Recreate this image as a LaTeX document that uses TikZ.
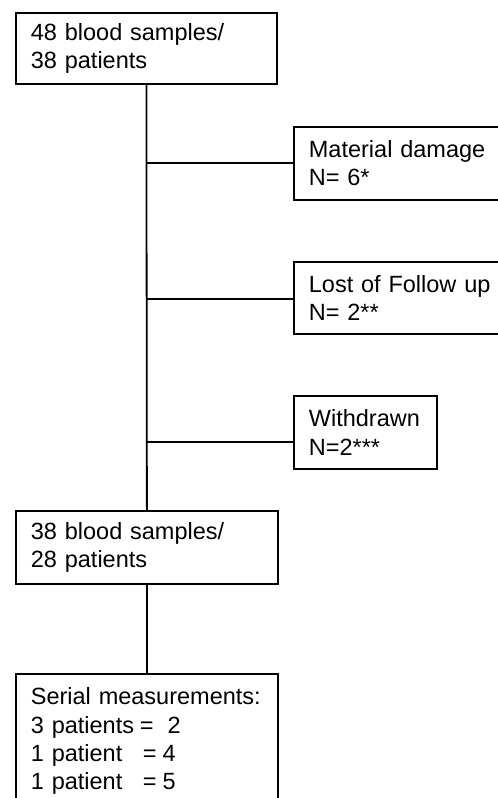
\documentclass[tikz,border=0pt]{standalone}
\usepackage{fontspec}
\setmainfont{Liberation Sans}
\usetikzlibrary{positioning}

\begin{document}
\begin{tikzpicture}[x= 1pt, y= -1pt, line width= 1.8pt]
      \useasboundingbox (0,0) rectangle (498,798);
      \clip (0,0) rectangle (498,798);
      \begin{scope}[every node/.style={draw,rectangle,anchor= north west,align= left,
          inner xsep= 15pt,inner ysep= 0pt,font= \fontsize{23.5}{28.3}\selectfont}]
        \node[text width= 231pt,minimum height= 71pt] (start) at (15,12) {48 blood samples/\\38 patients};
        \node[text width= 182pt,minimum height= 73pt] (damage) at (293,126) {Material~damage\\N= 6*};
        \node[text width= 182pt,minimum height= 72pt] (lost) at (293,261) {Lost~of~Follow~up\\N= 2**};
        \node[text width= 113pt,minimum height= 73pt] (withdrawn) at (293,395) {Withdrawn\\N=2***};
        \node[text width= 232pt,minimum height= 73pt] (remain) at (15,510) {38 blood samples/\\28 patients};
        \node[text width= 232pt,inner ysep= 14pt] (serial) at (15,673)
          {Serial~measurements:\\
           \makebox[109pt][l]{3 patients}=\hspace{14pt}2\\
           \makebox[112pt][l]{1 patient}=\hspace{6pt}4\\
           \makebox[112pt][l]{1 patient}=\hspace{6pt}5};
      \end{scope}
      \coordinate (J1) at (146,163);
      \coordinate (J2) at (146,299);
      \coordinate (J3) at (146,442);
      \begin{scope}[every path/.style={draw= black}]
        \path (start.south) -- (remain.north);
        \path (remain) -- (serial);
        \path (J1) -- (J1 -| damage.west);
        \path (J2) -- (J2 -| lost.west);
        \path (J3) -- (J3 -| withdrawn.west);
      \end{scope}
    \end{tikzpicture}
\end{document}
